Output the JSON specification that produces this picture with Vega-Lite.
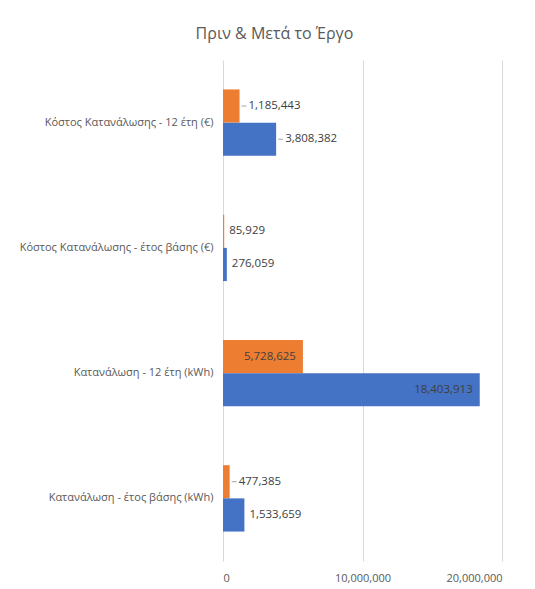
{
  "$schema": "https://vega.github.io/schema/vega-lite/v6.json",
  "autosize": "none",
  "width": 279,
  "height": 501,
  "padding": {"left": 223, "top": 60, "right": 33, "bottom": 28},
  "background": "white",
  "title": {"text": "Πριν & Μετά το Έργο", "font": "Open Sans", "fontSize": 16, "fontWeight": "normal", "color": "#595959", "anchor": "middle", "frame": "group", "dx": -88, "offset": 18},
  "config": {
    "view": {"stroke": null},
    "axis": {"labelFont": "Open Sans", "labelFontSize": 11, "labelColor": "#595959"},
    "text": {"font": "Open Sans", "fontSize": 11.5, "color": "#404040"}
  },
  "data": {"values": [
    {"category": "Κόστος Κατανάλωσης - 12 έτη (€)", "series": "Μετά", "value": 1185443},
    {"category": "Κόστος Κατανάλωσης - 12 έτη (€)", "series": "Πριν", "value": 3808382},
    {"category": "Κόστος Κατανάλωσης - έτος βάσης (€)", "series": "Μετά", "value": 85929},
    {"category": "Κόστος Κατανάλωσης - έτος βάσης (€)", "series": "Πριν", "value": 276059},
    {"category": "Κατανάλωση - 12 έτη (kWh)", "series": "Μετά", "value": 5728625},
    {"category": "Κατανάλωση - 12 έτη (kWh)", "series": "Πριν", "value": 18403913},
    {"category": "Κατανάλωση - έτος βάσης (kWh)", "series": "Μετά", "value": 477385},
    {"category": "Κατανάλωση - έτος βάσης (kWh)", "series": "Πριν", "value": 1533659}
  ]},
  "encoding": {
    "y": {"field": "category", "type": "nominal",
      "sort": ["Κόστος Κατανάλωσης - 12 έτη (€)", "Κόστος Κατανάλωσης - έτος βάσης (€)", "Κατανάλωση - 12 έτη (kWh)", "Κατανάλωση - έτος βάσης (kWh)"],
      "scale": {"paddingInner": 0.47, "paddingOuter": 0.235},
      "axis": {"title": null, "ticks": false, "domain": false, "labelPadding": 10, "grid": false, "labelLimit": 300}},
    "yOffset": {"field": "series", "type": "nominal", "sort": ["Μετά", "Πριν"], "scale": {"paddingInner": 0, "paddingOuter": 0}},
    "x": {"field": "value", "type": "quantitative",
      "scale": {"domain": [0, 20000000], "nice": false},
      "axis": {"title": null, "values": [0, 10000000, 20000000], "format": ",d", "grid": true, "gridColor": "#d9d9d9", "domain": false, "ticks": false, "labelPadding": 11}}
  },
  "layer": [
    {"mark": {"type": "bar"},
     "encoding": {"color": {"field": "series", "type": "nominal", "scale": {"domain": ["Μετά", "Πριν"], "range": ["#ED7D31", "#4472C4"]}, "legend": null}}},
    {"transform": [{"filter": "datum.value > 5000000"}],
     "mark": {"type": "text", "align": "right", "dx": -7},
     "encoding": {"text": {"field": "value", "type": "quantitative", "format": ",d"}}},
    {"transform": [{"filter": {"field": "value", "oneOf": [1185443, 3808382, 477385]}}],
     "mark": {"type": "rule", "xOffset": 2, "x2Offset": 7, "color": "#a6a6a6", "strokeWidth": 1},
     "encoding": {"x2": {"field": "value"}}},
    {"transform": [{"filter": {"field": "value", "oneOf": [1185443, 3808382, 477385]}}],
     "mark": {"type": "text", "align": "left", "dx": 9},
     "encoding": {"text": {"field": "value", "type": "quantitative", "format": ",d"}}},
    {"transform": [{"filter": {"field": "value", "oneOf": [85929, 276059, 1533659]}}],
     "mark": {"type": "text", "align": "left", "dx": 5},
     "encoding": {"text": {"field": "value", "type": "quantitative", "format": ",d"}}}
  ]
}
